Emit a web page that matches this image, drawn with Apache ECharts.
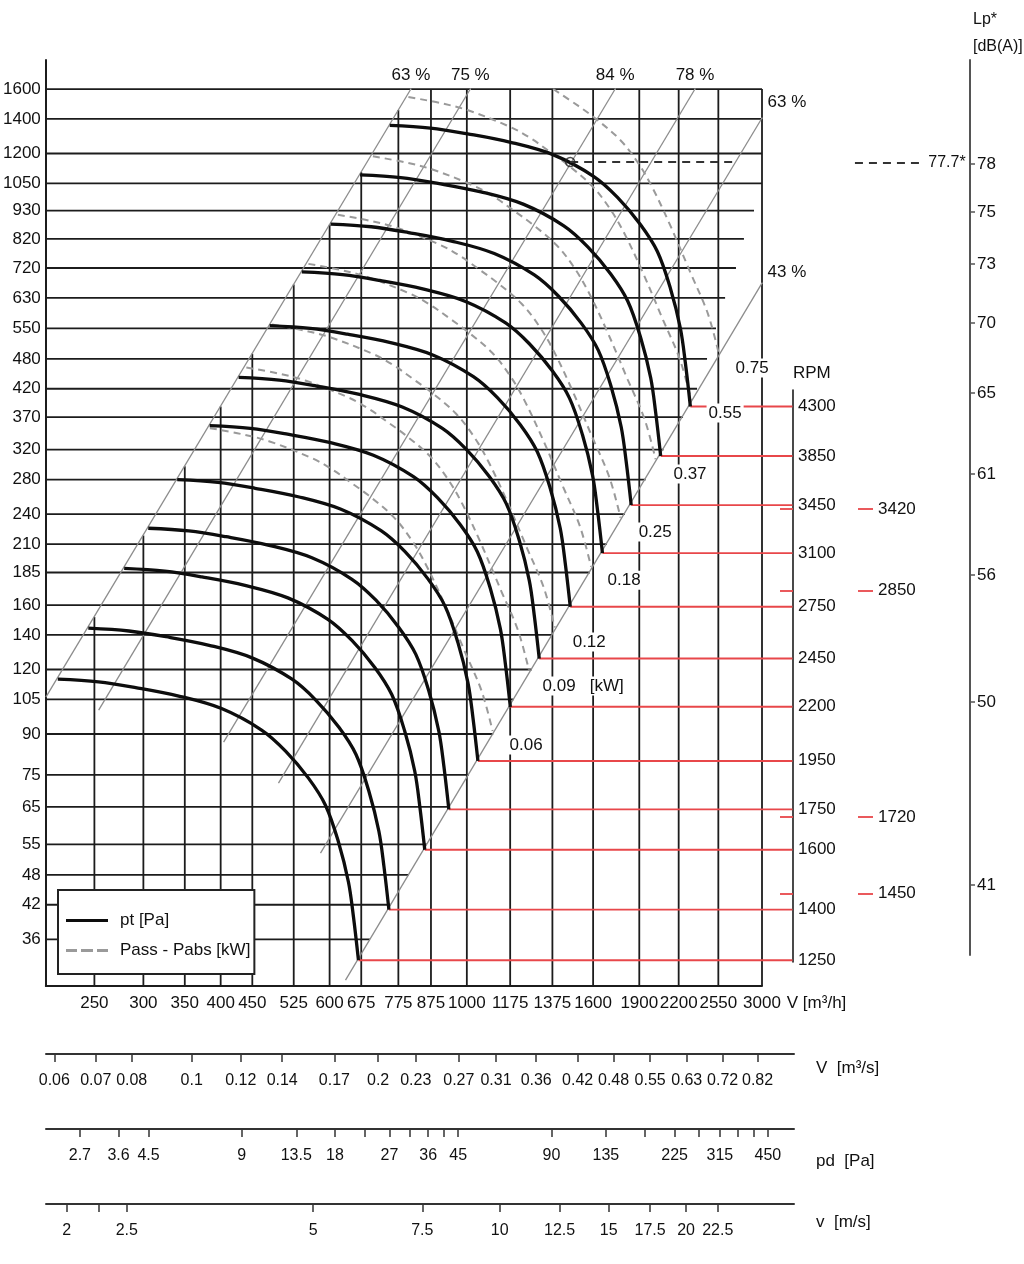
<!DOCTYPE html>
<html><head><meta charset="utf-8">
<script src="https://cdn.jsdelivr.net/npm/echarts@6/dist/echarts.min.js"></script>
<style>html,body{margin:0;padding:0;background:#fff}#c{width:1024px;height:1264px}</style>
</head><body><div id="c"></div><script>
// ================= DATA =================
const V_TICKS = [250,300,350,400,450,525,600,675,775,875,1000,1175,1375,1600,1900,2200,2550,3000];
const V_GRID_TOP = [151.6,218.3,297.2,388.2,491.3,668.7,873.4,1105,1457,1600,1600,1600,1600,1600,1600,1600,1600,1600];
const P_TICKS = [1600,1400,1200,1050,930,820,720,630,550,480,420,370,320,280,240,210,185,160,140,120,105,90,75,65,55,48,42,36];
const P_GRID_END = [3000,3000,3000,3000,2912,2805,2723,2615,2528,2445,2356,2236,2079,1945,1801,1684,1581,1470,1375,1273,1191,1103,1007,937,862,805,753,697];

const EFF_LABELS = ['63 %','75 %','84 %','78 %','63 %','43 %'];
const EFF_START_V = [208.7,254,404.4,496,580,636.6];
const EFF_START_P = [106.1,100.1,86.8,72.3,52.9,30.0];
const EFF_END_V = [812,1013,1737,2338,3000,3000];
const EFF_END_P = [1600,1600,1600,1600,1406,673];

const RPM = [4300,3850,3450,3100,2750,2450,2200,1950,1750,1600,1400,1250];
const RPM_EXTRA = [3420,2850,1720,1450];

// pt [Pa] curves, one per speed (V in m3/h, p in Pa)
const PT_V_4300 = [750.6,873.1,1002.8,1176.8,1380.5,1602.4,1752.0,1907.8,2032.4,2133.1,2214.0,2255.6,2297.9];
const PT_P_4300 = [1360.9,1344.3,1309.9,1261.5,1192.8,1084.0,986.9,874.5,775.1,658.0,550.3,471.0,388.1];
const PT_V_3850 = [672.1,781.7,897.8,1053.7,1236.0,1434.7,1568.6,1708.2,1819.7,1909.9,1982.3,2019.6,2057.4];
const PT_P_3850 = [1090.9,1077.6,1050.1,1011.3,956.2,869.0,791.2,701.0,621.4,527.4,441.1,377.6,311.2];
const PT_V_3450 = [602.2,700.5,804.5,944.2,1107.6,1285.6,1405.7,1530.7,1630.6,1711.5,1776.3,1809.7,1843.7];
const PT_P_3450 = [876.0,865.4,843.2,812.0,767.9,697.8,635.3,562.9,499.0,423.5,354.2,303.2,249.9];
const PT_V_3100 = [541.1,629.4,722.9,848.4,995.2,1155.2,1263.1,1375.4,1465.2,1537.8,1596.1,1626.1,1656.6];
const PT_P_3100 = [707.3,698.7,680.9,655.6,620.0,563.4,512.9,454.5,402.9,342.0,286.0,244.8,201.7];
const PT_V_2750 = [480.0,558.4,641.3,752.6,882.9,1024.8,1120.5,1220.1,1299.8,1364.2,1415.9,1442.5,1469.6];
const PT_P_2750 = [556.6,549.8,535.8,515.9,487.9,443.3,403.7,357.7,317.0,269.1,225.1,192.6,158.8];
const PT_V_2450 = [427.7,497.4,571.3,670.5,786.5,913.0,998.2,1087.0,1158.0,1215.4,1261.5,1285.2,1309.3];
const PT_P_2450 = [441.8,436.4,425.2,409.5,387.2,351.9,320.4,283.9,251.6,213.6,178.6,152.9,126.0];
const PT_V_2200 = [384.0,446.7,513.0,602.1,706.3,819.8,896.4,976.1,1039.8,1091.4,1132.7,1154.0,1175.7];
const PT_P_2200 = [356.2,351.9,342.9,330.2,312.2,283.7,258.3,228.9,202.9,172.2,144.0,123.3,101.6];
const PT_V_1950 = [340.4,395.9,454.7,533.7,626.0,726.6,794.5,865.2,921.6,967.4,1004.0,1022.9,1042.1];
const PT_P_1950 = [279.9,276.5,269.4,259.4,245.3,222.9,203.0,179.8,159.4,135.3,113.2,96.9,79.8];
const PT_V_1750 = [305.5,355.3,408.1,478.9,561.8,652.1,713.0,776.4,827.1,868.1,901.0,918.0,935.2];
const PT_P_1750 = [225.4,222.7,217.0,208.9,197.6,179.5,163.5,144.8,128.4,109.0,91.1,78.0,64.3];
const PT_V_1600 = [279.3,324.9,373.1,437.9,513.7,596.2,651.9,709.9,756.2,793.7,823.8,839.3,855.0];
const PT_P_1600 = [188.4,186.1,181.4,174.7,165.2,150.1,136.6,121.1,107.3,91.1,76.2,65.2,53.7];
const PT_V_1400 = [244.4,284.3,326.5,383.2,449.5,521.7,570.4,621.2,661.7,694.5,720.8,734.4,748.2];
const PT_P_1400 = [144.3,142.5,138.9,133.7,126.4,114.9,104.6,92.7,82.2,69.7,58.3,49.9,41.1];
const PT_V_1250 = [218.2,253.8,291.5,342.1,401.3,465.8,509.3,554.6,590.8,620.1,643.6,655.7,668.0];
const PT_P_1250 = [115.0,113.6,110.7,106.6,100.8,91.6,83.4,73.9,65.5,55.6,46.5,39.8,32.8];

// Pass - Pabs [kW] dashed lines (constant absorbed power)
const KW_TEXT = ['0.75','0.55','0.37','0.25','0.18','0.12','0.09   [kW]','0.06'];
const KW_075_V = [1379,1512.3,1611.2,1768.1,1890.6,1991.6,2129.5,2302.3,2452.6,2554.9];
const KW_075_P = [1600,1485.4,1405.1,1276.4,1151.7,1034.8,873.4,701.8,587.2,491.3];
const KW_055_V = [804.5,906.1,1001.8,1175.7,1266.3,1363.8,1453.0,1594.5,1704.9,1796.0,1920.4,2076.2,2211.7,2304.0];
const KW_055_P = [1543.8,1503.0,1456.7,1350.6,1285.9,1207.9,1142.6,1038.0,936.6,841.5,710.3,570.7,477.5,399.5];
const KW_037_V = [704.9,793.9,877.8,1030.2,1109.5,1195.0,1273.1,1397.1,1493.8,1573.7,1682.7,1819.2,1937.9,2018.8];
const KW_037_P = [1185.2,1153.9,1118.3,1036.9,987.2,927.3,877.1,796.9,719.0,646.0,545.3,438.1,366.6,306.7];
const KW_025_V = [618.7,696.8,770.4,904.1,973.8,1048.8,1117.4,1226.2,1311.1,1381.1,1476.8,1596.6,1700.8,1771.8];
const KW_025_P = [913.0,888.9,861.5,798.8,760.5,714.4,675.8,613.9,553.9,497.7,420.0,337.5,282.4,236.3];
const KW_018_V = [554.5,624.5,690.4,810.3,872.7,939.9,1001.4,1098.9,1175.0,1237.8,1323.5,1430.9,1524.3,1587.9];
const KW_018_P = [733.3,713.9,691.9,641.5,610.8,573.8,542.7,493.1,444.9,399.7,337.4,271.1,226.8,189.8];
const KW_012_V = [484.3,545.5,603.1,707.8,762.3,821.0,874.7,959.9,1026.4,1081.2,1156.1,1249.9,1331.4,1387.0];
const KW_012_P = [559.5,544.7,527.9,489.5,466.0,437.7,414.1,376.2,339.4,305.0,257.4,206.8,173.0,144.8];
const KW_009_V = [440.1,495.6,548.0,643.1,692.7,746.0,794.8,872.2,932.6,982.4,1050.5,1135.7,1209.8,1260.3];
const KW_009_P = [461.9,449.7,435.8,404.1,384.7,361.4,341.9,310.6,280.2,251.8,212.5,170.7,142.9,119.5];
const KW_006_V = [384.3,432.8,478.6,561.6,604.9,651.5,694.1,761.7,814.4,857.9,917.4,991.8,1056.5,1100.6];
const KW_006_P = [352.3,343.0,332.4,308.2,293.4,275.6,260.8,236.9,213.7,192.0,162.1,130.3,109.0,91.2];
const KW_LABEL_V = [2891,2615,2295,2016,1796,1577,1542,1247];
const KW_LABEL_P = [460.7,376.9,287.1,221.6,178.8,135.7,111.5,85.7];

const OP_POINT = [1469,1155];
const OP_LINE_END_V = 2714;
const LP_MARK_TEXT = '77.7*';
const LP_MARK_V = [4240,5398];
const LP_MARK_P = 1150;

const LP_TICK_POS = [78,75.54,72.87,69.84,66.25,62.09,56.91,50.4,41];
const LP_TICK_TEXT = ['78','75','73','70','65','61','56','50','41'];
const M3S_TICKS = [0.06,0.07,0.08,0.1,0.12,0.14,0.17,0.2,0.23,0.27,0.31,0.36,0.42,0.48,0.55,0.63,0.72,0.82];
const PD_TICKS = [2.7,3.6,4.5,9,13.5,18,22.5,27,31.5,36,40.5,45,90,135,180,225,270,315,360,405,450];
const PD_LABELS = [2.7,3.6,4.5,9,13.5,18,27,36,45,90,135,225,315,450];
const VEL_TICKS = [2,2.25,2.5,5,7.5,10,12.5,15,17.5,20,22.5];
const VEL_LABELS = [2,2.5,5,7.5,10,12.5,15,17.5,20,22.5];

// ================= LAYOUT / STYLE =================
const FONT = '"Liberation Sans",Arial,sans-serif';
const TXT = '#111';
const RED = '#e8474a';
const X_MIN = 208.65, X_MAX = 3000, Y_MIN = 29.23, Y_MAX = 1821.3;
const RED_END_V = 3360;
const fmt = v => String(+(+v).toPrecision(6));

const PT_CURVES = [[PT_V_4300,PT_P_4300],[PT_V_3850,PT_P_3850],[PT_V_3450,PT_P_3450],[PT_V_3100,PT_P_3100],
  [PT_V_2750,PT_P_2750],[PT_V_2450,PT_P_2450],[PT_V_2200,PT_P_2200],[PT_V_1950,PT_P_1950],
  [PT_V_1750,PT_P_1750],[PT_V_1600,PT_P_1600],[PT_V_1400,PT_P_1400],[PT_V_1250,PT_P_1250]];
const KW_CURVES = [[KW_075_V,KW_075_P],[KW_055_V,KW_055_P],[KW_037_V,KW_037_P],[KW_025_V,KW_025_P],
  [KW_018_V,KW_018_P],[KW_012_V,KW_012_P],[KW_009_V,KW_009_P],[KW_006_V,KW_006_P]];
const zip = (a,b)=>a.map((v,i)=>[v,b[i]]);

const series = [];
const base = {type:'line', xAxisIndex:0, yAxisIndex:0, symbol:'none', silent:true, animation:false};

P_TICKS.forEach((p,i)=>series.push(Object.assign({}, base, {
  data:[[X_MIN,p],[P_GRID_END[i],p]], lineStyle:{color:'#1c1c1c',width:1.8}, z:1})));
V_TICKS.forEach((v,i)=>series.push(Object.assign({}, base, {
  data:[[v,Y_MIN],[v,V_GRID_TOP[i]]], lineStyle:{color:'#1c1c1c',width:1.8}, z:1})));
EFF_LABELS.forEach((t,i)=>series.push(Object.assign({}, base, {
  data:[[EFF_START_V[i],EFF_START_P[i]],[EFF_END_V[i],EFF_END_P[i]]], lineStyle:{color:'#8c8c8c',width:1.3}, z:2})));

const txtLabel = (extra)=>Object.assign({show:true, fontFamily:FONT, fontSize:17, color:TXT, opacity:1, textBorderWidth:0}, extra);
const labelSeries = (data)=>({type:'scatter', xAxisIndex:0, yAxisIndex:0, silent:true, animation:false, clip:false, z:10,
  symbol:'circle', symbolSize:1, itemStyle:{color:'#fff', opacity:1}, emphasis:{disabled:true}, data});

series.push(labelSeries(EFF_LABELS.map((t,i)=>({value:[EFF_END_V[i],EFF_END_P[i]],
  label:txtLabel({formatter:t, position: i<4?'top':'right', distance:5,
    offset: i===4?[0,-16]:(i===5?[0,-11]:[0,0])})}))));

KW_CURVES.forEach(c=>series.push(Object.assign({}, base, {name:'Pass - Pabs [kW]', data:zip(c[0],c[1]),
  smooth:0.35, lineStyle:{color:'#9a9a9a',width:2,type:[7,5]}, itemStyle:{color:'#9a9a9a'}, z:3})));
PT_CURVES.forEach(c=>series.push(Object.assign({}, base, {name:'pt [Pa]', data:zip(c[0],c[1]),
  smooth:0.35, lineStyle:{color:'#0d0d0d',width:3.3}, itemStyle:{color:'#0d0d0d'}, z:5})));

// horizontal segments drawn through the chart scales (red speed lines, dashed marker lines)
const hLine = (color,width,dash)=>(params, api)=>{
  const a = api.coord([api.value(0), api.value(1)]);
  const b = api.coord([api.value(2), api.value(1)]);
  return {type:'line', shape:{x1:a[0],y1:a[1],x2:b[0],y2:b[1]}, style:{stroke:color, lineWidth:width, lineDash:dash||null}};
};
const RED_DATA = PT_CURVES.map(c=>[c[0][c[0].length-1], c[1][c[1].length-1], RED_END_V]);
series.push({type:'custom', xAxisIndex:0, yAxisIndex:0, silent:true, animation:false, clip:false, z:3,
  data:RED_DATA, renderItem:hLine(RED,1.9)});
series.push({type:'custom', xAxisIndex:0, yAxisIndex:0, silent:true, animation:false, clip:false, z:6,
  data:[[OP_POINT[0],OP_POINT[1],OP_LINE_END_V],[LP_MARK_V[0],LP_MARK_P,LP_MARK_V[1]]], renderItem:hLine('#333',2,[8,6])});
series.push({type:'scatter', xAxisIndex:0, yAxisIndex:0, silent:true, animation:false, z:7,
  symbol:'circle', symbolSize:9, itemStyle:{color:'rgba(255,255,255,0)', borderColor:'#222', borderWidth:1.5}, data:[OP_POINT]});
series.push(labelSeries([{value:[LP_MARK_V[1],LP_MARK_P], itemStyle:{opacity:0},
  label:txtLabel({formatter:LP_MARK_TEXT, position:'right', distance:8, fontSize:16})}]));
series.push(labelSeries(KW_TEXT.map((t,i)=>({value:[KW_LABEL_V[i],KW_LABEL_P[i]],
  label:txtLabel({formatter:t, position:'inside', backgroundColor:'#fff', padding:[1,2]})}))));

const hiddenAxis = (gi)=>({gridIndex:gi, type:'value', show:false, min:0, max:1});
const lab = (extra)=>Object.assign({fontFamily:FONT, fontSize:17, color:TXT, formatter:fmt}, extra);
const nameStyle = (extra)=>Object.assign({fontFamily:FONT, fontSize:17, color:TXT}, extra);

const option = {
  animation:false,
  backgroundColor:'#fff',
  grid:[
    {left:45, top:60, width:717, height:926},
    {left:970, top:60, width:1, height:895},
    {left:793, top:390, width:1, height:572},
    {left:46, top:1053, width:748, height:1},
    {left:46, top:1128, width:748, height:1},
    {left:46, top:1203, width:748, height:1}
  ],
  legend:{
    data:[{name:'pt [Pa]', icon:'path://M0,0H42V3H0Z'},
          {name:'Pass - Pabs [kW]', icon:'path://M0,0H11V3H0Z M15,0H27V3H15Z M31,0H42V3H31Z'}],
    orient:'vertical', left:58, top:890,
    backgroundColor:'#fff', borderColor:'#222', borderWidth:2, borderRadius:0, padding:[22,4,15,8], itemGap:13,
    itemWidth:42, itemHeight:3, selectedMode:false,
    textStyle:{fontFamily:FONT, fontSize:17, color:TXT, padding:[0,0,0,7]}},
  xAxis:[
    {gridIndex:0, type:'log', min:X_MIN, max:X_MAX, axisLine:{lineStyle:{color:'#1c1c1c',width:2}}, axisTick:{show:false},
      splitLine:{show:false}, axisLabel:lab({customValues:V_TICKS, margin:9}),
      name:'V [m³/h]', nameLocation:'end', nameGap:14, nameTextStyle:nameStyle({verticalAlign:'top', padding:[9,0,0,0]})},
    hiddenAxis(1), hiddenAxis(2),
    {gridIndex:3, type:'log', min:0.05817, max:0.9389, axisLine:{lineStyle:{color:'#333',width:2}},
      axisTick:{customValues:M3S_TICKS, length:8, lineStyle:{color:'#333',width:1.5}}, splitLine:{show:false},
      axisLabel:lab({customValues:M3S_TICKS, margin:19, fontSize:16}),
      name:'V  [m³/s]', nameLocation:'end', nameGap:22, nameTextStyle:nameStyle({verticalAlign:'top', padding:[6,0,0,0]})},
    {gridIndex:4, type:'log', min:2.099, max:546.7, axisLine:{lineStyle:{color:'#333',width:2}},
      axisTick:{customValues:PD_TICKS, length:8, lineStyle:{color:'#333',width:1.5}}, splitLine:{show:false},
      axisLabel:lab({customValues:PD_LABELS, margin:19, fontSize:16}),
      name:'pd  [Pa]', nameLocation:'end', nameGap:22, nameTextStyle:nameStyle({verticalAlign:'top', padding:[24,0,0,0]})},
    {gridIndex:5, type:'log', min:1.851, max:29.88, axisLine:{lineStyle:{color:'#333',width:2}},
      axisTick:{customValues:VEL_TICKS, length:8, lineStyle:{color:'#333',width:1.5}}, splitLine:{show:false},
      axisLabel:lab({customValues:VEL_LABELS, margin:19, fontSize:16}),
      name:'v  [m/s]', nameLocation:'end', nameGap:22, nameTextStyle:nameStyle({verticalAlign:'top', padding:[10,0,0,0]})}
  ],
  yAxis:[
    {gridIndex:0, type:'log', min:Y_MIN, max:Y_MAX, axisLine:{lineStyle:{color:'#1c1c1c',width:2}}, axisTick:{show:false},
      splitLine:{show:false}, axisLabel:lab({customValues:P_TICKS, margin:5})},
    {gridIndex:1, type:'value', min:37.41, max:83.34, position:'left', axisLine:{lineStyle:{color:'#555',width:2}},
      axisTick:{customValues:LP_TICK_POS, inside:true, length:5, lineStyle:{color:'#555',width:1.5}}, splitLine:{show:false},
      axisLabel:lab({customValues:LP_TICK_POS, inside:true, margin:7,
        formatter:(v)=>{const i=LP_TICK_POS.findIndex(x=>Math.abs(x-v)<1e-6);return i>=0?LP_TICK_TEXT[i]:'';}}),
      name:'Lp*\n[dB(A)]', nameLocation:'end', nameGap:0, nameTextStyle:nameStyle({align:'left', lineHeight:27, fontSize:16, padding:[0,0,0,3]})},
    {gridIndex:2, type:'log', min:1244.5, max:4460, position:'left', axisLine:{lineStyle:{color:'#1c1c1c',width:1.6}},
      axisTick:{customValues:RPM_EXTRA, length:13, lineStyle:{color:RED,width:1.8}}, splitLine:{show:false},
      axisLabel:lab({customValues:RPM, inside:true, margin:5}),
      name:'RPM', nameLocation:'end', nameGap:8, nameTextStyle:nameStyle({align:'left'})},
    {gridIndex:2, type:'log', min:1244.5, max:4460, position:'right', offset:64, axisLine:{show:false},
      axisTick:{customValues:RPM_EXTRA, length:15, lineStyle:{color:RED,width:1.8}}, splitLine:{show:false},
      axisLabel:lab({customValues:RPM_EXTRA, margin:20})},
    hiddenAxis(3), hiddenAxis(4), hiddenAxis(5)
  ],
  series
};
const chart = echarts.init(document.getElementById('c'), null, {renderer:'canvas'});
chart.setOption(option);
</script></body></html>
